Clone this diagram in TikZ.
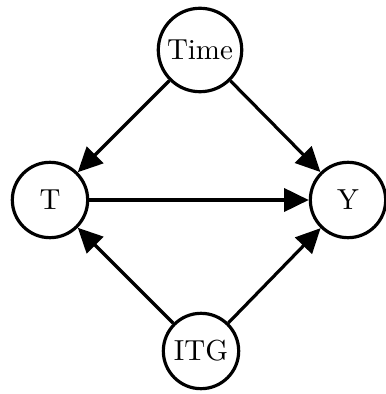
\documentclass[tikz,border=0pt]{standalone}
\usetikzlibrary{arrows.meta}
\begin{document}
\begin{tikzpicture}[x=0.345pt,y=-0.345pt,
  var/.style={circle,draw,line width=1.1pt,minimum size=26pt,inner sep=2pt},
  edge/.style={line width=1.1pt,-{Triangle[length=8.5pt,width=8pt]}}]
\useasboundingbox (0,0) rectangle (385,394);
\node[var] (time) at (200,50) {Time};
\node[var] (t) at (50,200) {T};
\node[var] (y) at (348,200) {Y};
\node[var] (itg) at (201,351) {ITG};
\draw[edge] (time) -- (t);
\draw[edge] (time) -- (y);
\draw[edge] (t) -- (y);
\draw[edge] (itg) -- (t);
\draw[edge] (itg) -- (y);
\end{tikzpicture}
\end{document}
